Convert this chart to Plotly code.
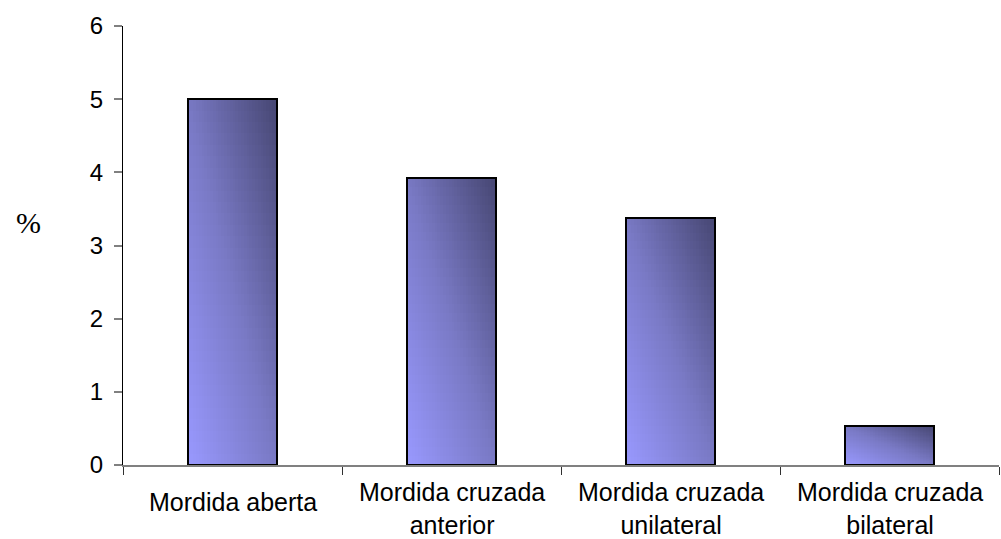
import plotly.graph_objects as go

# Chart data
categories = ["Mordida aberta", "Mordida cruzada anterior",
              "Mordida cruzada unilateral", "Mordida cruzada bilateral"]
tick_labels = ["Mordida aberta", "Mordida cruzada<br>anterior",
               "Mordida cruzada<br>unilateral", "Mordida cruzada<br>bilateral"]
values = [5.0, 3.92, 3.38, 0.53]
y_axis_title = "%"

BAR_WIDTH = 0.41
N_COLS = 32
N_ROWS = 32

# diagonal gradient stops: light lilac (bottom-left) to dark slate (top-right)
STOPS = [(0.0, (153, 153, 255)), (0.5, (121, 121, 196)), (1.0, (70, 70, 114))]


def grad_color(t):
    for (t0, c0), (t1, c1) in zip(STOPS[:-1], STOPS[1:]):
        if t <= t1:
            f = (t - t0) / (t1 - t0)
            r, g, b = (round(a + (bb - a) * f) for a, bb in zip(c0, c1))
            return f"rgb({r},{g},{b})"
    r, g, b = STOPS[-1][1]
    return f"rgb({r},{g},{b})"


# Each bar is painted as nested cells; cell (i, j) covers from its own
# corner to the bar's top-right corner, drawn in lexicographic order so the
# visible part of each cell is exactly its own slot (no seams).
xs, ys, bases, offsets, widths, colors = [], [], [], [], [], []
for cat, val in zip(categories, values):
    for i in range(N_COLS):
        u0 = i / N_COLS
        um = (i + 0.5) / N_COLS
        for j in range(N_ROWS):
            v0 = j / N_ROWS
            vm = (j + 0.5) / N_ROWS
            xs.append(cat)
            bases.append(val * v0)
            ys.append(val * (1 - v0))
            offsets.append(-BAR_WIDTH / 2 + u0 * BAR_WIDTH)
            widths.append(BAR_WIDTH * (1 - u0))
            colors.append(grad_color(0.5 * um + 0.5 * vm))

fig = go.Figure()
fig.add_trace(go.Bar(
    x=xs, y=ys, base=bases, offset=offsets, width=widths,
    marker=dict(color=colors, line=dict(width=0)),
    hoverinfo="skip", showlegend=False,
))
# outline of each bar
fig.add_trace(go.Bar(
    x=categories, y=values, width=BAR_WIDTH,
    marker=dict(color="rgba(0,0,0,0)", line=dict(color="black", width=2)),
    showlegend=False,
))

# category labels under the axis, vertically centred like the original
for cat, lab in zip(categories, tick_labels):
    n_lines = lab.count("<br>") + 1
    fig.add_annotation(
        x=cat, xref="x", y=0, yref="paper", yanchor="middle",
        yshift=-37 - 6 * (n_lines - 1), text=lab, showarrow=False,
        font=dict(family="Liberation Sans, Arial", size=25, color="black"),
    )

fig.add_annotation(
    x=-0.108, xref="paper", y=0.553, yref="paper",
    xanchor="center", yanchor="middle", text=y_axis_title, showarrow=False,
    font=dict(family="Liberation Serif, Times New Roman", size=30, color="black"),
)

fig.update_layout(
    width=1001, height=539,
    margin=dict(l=123, r=2, t=26, b=74),
    paper_bgcolor="white", plot_bgcolor="white",
    barmode="overlay", bargap=0,
    font=dict(family="Liberation Sans, Arial", size=24, color="black"),
    xaxis=dict(
        type="category", categoryorder="array", categoryarray=categories,
        showticklabels=False, showline=True, linecolor="#808080", linewidth=1.5,
        ticks="outside", tickson="boundaries", ticklen=8, tickcolor="#303030",
        tickwidth=1, showgrid=False, zeroline=False,
    ),
    yaxis=dict(
        range=[0, 6], dtick=1, tick0=0, showline=True, linecolor="black",
        linewidth=1, ticks="outside", ticklen=8, tickcolor="#808080",
        tickwidth=1.5, showgrid=False, zeroline=False, ticklabelstandoff=6,
        tickfont=dict(family="Liberation Sans, Arial", size=24, color="black"),
    ),
)

fig.write_html("out.html")
